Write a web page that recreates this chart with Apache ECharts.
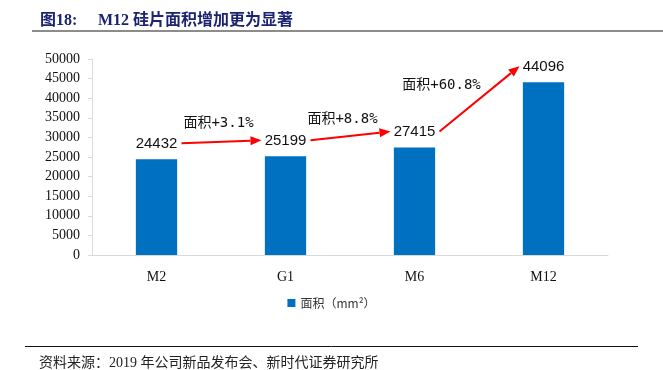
<!DOCTYPE html>
<html><head><meta charset="utf-8">
<script src="https://cdn.jsdelivr.net/npm/echarts@6/dist/echarts.min.js"></script>
<style>html,body{margin:0;padding:0;background:#fff}#c{width:663px;height:370px}</style>
</head><body><div id="c"></div>
<script>
var categories = ['M2', 'G1', 'M6', 'M12'];
var areaValues = [24432, 25199, 27415, 44096];
var growthLabels = ['面积+3.1%', '面积+8.8%', '面积+60.8%'];
var yTicks = [0, 5000, 10000, 15000, 20000, 25000, 30000, 35000, 40000, 45000, 50000];
var seriesName = '面积（mm²）';

var chart = echarts.init(document.getElementById('c'), null, {renderer: 'canvas'});
var serif = '"Liberation Serif", "Times New Roman", serif';
var cjk = '"Liberation Serif", "Noto Sans CJK SC", serif';
chart.setOption({
  animation: false,
  backgroundColor: '#fff',
  title: [
    {text: '图18:', left: 35, top: 8, textStyle: {fontFamily: '"Liberation Serif","Noto Sans CJK SC",serif', fontWeight: 'bold', fontSize: 16, color: '#1b2470'}},
    {text: 'M12 硅片面积增加更为显著', left: 93, top: 8, textStyle: {fontFamily: '"Liberation Serif","Noto Sans CJK SC",serif', fontWeight: 'bold', fontSize: 16, color: '#1b2470'}},
    {text: '资料来源：2019 年公司新品发布会、新时代证券研究所', left: 34, top: 351, textStyle: {fontFamily: cjk, fontWeight: 'normal', fontSize: 14, color: '#222'}}
  ],
  grid: {left: 92, right: 55, top: 59, bottom: 115},
  legend: {
    data: [{name: seriesName, icon: 'rect'}], left: 'center', top: 292, itemWidth: 8, itemHeight: 8, itemGap: 4,
    textStyle: {fontFamily: '"Noto Sans CJK SC", sans-serif', fontSize: 12, color: '#333'}
  },
  xAxis: {
    type: 'category', data: categories,
    axisLine: {lineStyle: {color: '#d9d9d9', width: 1}},
    axisTick: {show: false},
    axisLabel: {fontFamily: serif, fontSize: 14, color: '#111', margin: 15}
  },
  yAxis: {
    type: 'value', min: 0, max: 50000, interval: 5000,
    axisLine: {show: true, lineStyle: {color: '#d9d9d9'}},
    axisTick: {show: true, length: 4, lineStyle: {color: '#d9d9d9'}},
    splitLine: {show: false},
    axisLabel: {fontFamily: serif, fontSize: 14, color: '#111', margin: 12,
      formatter: function (v) { return yTicks.indexOf(v) >= 0 ? String(v) : ''; }}
  },
  series: [{
    name: seriesName, type: 'bar', data: areaValues, barWidth: '32%',
    itemStyle: {color: '#0070c0'},
    label: {show: true, position: 'top', distance: 8,
      fontFamily: '"Liberation Sans", Arial, sans-serif', fontSize: 15, color: '#111'}
  }]
});

function drawArrows() {
  var els = [];
  var pts = areaValues.map(function (v, i) {
    var p = chart.convertToPixel({seriesIndex: 0}, [i, v]);
    return [p[0], p[1] - 16];
  });
  var textOffsets = [[-3, -18], [-8, -17], [-38, -13]];
  for (var i = 0; i < pts.length - 1; i++) {
    var x1 = pts[i][0] + 25, y1 = pts[i][1];
    var x2 = pts[i + 1][0] - 24, y2 = pts[i + 1][1];
    var dx = x2 - x1, dy = y2 - y1, L = Math.sqrt(dx * dx + dy * dy);
    var ux = dx / L, uy = dy / L;
    var hl = 11, hw = 4.5;
    var bx = x2 - ux * hl, by = y2 - uy * hl;
    els.push({type: 'line', shape: {x1: x1, y1: y1, x2: bx, y2: by}, style: {stroke: '#ff0000', lineWidth: 2}, z: 100});
    els.push({type: 'polygon', shape: {points: [[x2, y2], [bx - uy * hw, by + ux * hw], [bx + uy * hw, by - ux * hw]]}, style: {fill: '#ff0000'}, z: 100});
    els.push({type: 'text', x: (x1 + x2) / 2 + textOffsets[i][0], y: (y1 + y2) / 2 + textOffsets[i][1],
      style: {text: growthLabels[i], font: '14px "DejaVu Sans Mono", "Noto Sans CJK SC", monospace', fill: '#111', align: 'center', verticalAlign: 'middle'}, z: 100});
  }
  els.push({type: 'line', shape: {x1: 32, y1: 31, x2: 663, y2: 31}, style: {stroke: '#8c8c8c', lineWidth: 2}});
  els.push({type: 'line', shape: {x1: 25, y1: 346.5, x2: 638, y2: 346.5}, style: {stroke: '#111', lineWidth: 1}});
  chart.setOption({graphic: els});
}
drawArrows();
</script></body></html>
